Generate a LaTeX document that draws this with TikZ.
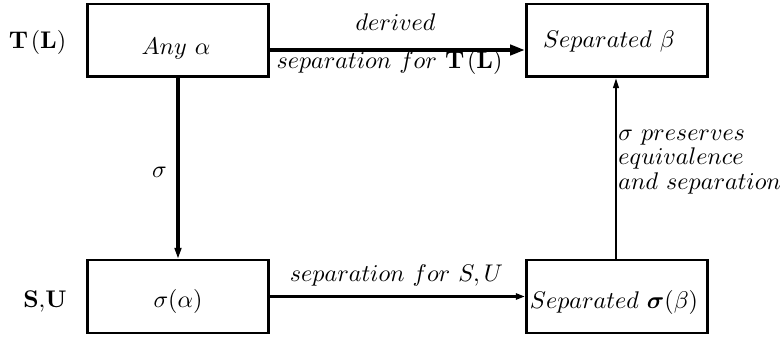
\documentclass[tikz,border=0pt]{standalone}
\usepackage{amsmath}
\usetikzlibrary{arrows.meta}
\begin{document}
\begin{tikzpicture}[x=0.415pt,y=-0.415pt,
  box/.style={draw,line width=1.05pt,minimum width=75.3pt,minimum height=30.1pt,inner sep=0pt},
  txt/.style={inner sep=0pt,anchor=base},
  lbl/.style={inner sep=0pt,anchor=base west},
  toparrow/.style={line width=1.65pt,-{Triangle[length=6.2pt,width=4.2pt]}},
  sigarrow/.style={line width=1.35pt,-{Triangle[length=4.6pt,width=2.7pt]}},
  rarrow/.style={line width=0.9pt,-{Triangle[length=4.2pt,width=2.3pt]}},
  barrow/.style={line width=1.25pt,-{Triangle[length=3.8pt,width=2.5pt]}}]
\useasboundingbox (0,0) rectangle (781,343);
% boxes
\node[box] (b1) at (178,40.5) {};
\node[box] (b2) at (617,40.5) {};
\node[box] (b3) at (178,296.5) {};
\node[box] (b4) at (617,296.5) {};
% box texts
\node[txt] (t1) at (176,55) {$Any\ \alpha$};
\node[txt] (t2) at (609,48) {$Separated\ \beta$};
\node[txt] (t3) at (178,307) {$\sigma(\alpha)$};
\node[txt] (t4) at (614,308) {$Separated\ \boldsymbol{\sigma}(\beta)$};
% row labels
\node[txt] (rTL) at (37.5,49) {$\mathbf{T}\mkern2mu(\mathbf{L})$};
\node[txt] (rSU) at (45,307) {$\mathbf{S},\!\mathbf{U}$};
% connectors
\coordinate (topy) at (400,50);
\draw[toparrow] (b1.east |- topy) -- (b2.west |- topy);
\draw[sigarrow] (b1.south) -- (b3.north);
\coordinate (rx) at (616,150);
\draw[rarrow] (b4.north -| rx) -- (b2.south -| rx);
\draw[barrow] (b3.east) -- (b4.west);
% connector labels
\node[txt] (l1) at (395.5,31) {$derived$};
\node[txt] (l2) at (389.5,69) {$separation\ for\ \mathbf{T}\mkern2mu(\mathbf{L})$};
\node[txt] (l3) at (396.5,282) {$separation\ for\ S,U$};
\node[txt] (l4) at (159.5,178) {$\sigma$};
\node[lbl] (r1) at (618,141) {$\sigma\ preserves$};
\node[lbl] (r2) at (618,165) {$equivalence$};
\node[lbl] (r3) at (618,189) {$and\ separation$};
\end{tikzpicture}
\end{document}
